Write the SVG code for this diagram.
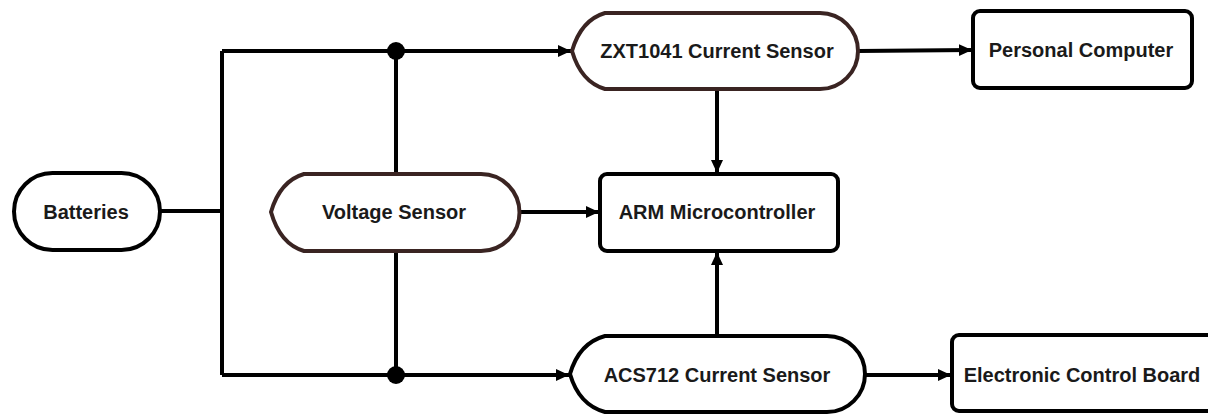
<svg xmlns="http://www.w3.org/2000/svg" width="1208" height="414" viewBox="0 0 1208 414">
<style>
.node{fill:#fff;stroke:#000;stroke-width:4}
.brown{stroke:#3a2422}
.lbl{font-family:"Liberation Sans",Arial,sans-serif;font-weight:bold;font-size:20px;fill:#1a1a1a;text-anchor:middle}
.wire{fill:none;stroke:#000;stroke-width:4}
</style>
<defs>
<marker id="arr" markerUnits="userSpaceOnUse" markerWidth="14" markerHeight="14" refX="13" refY="7" orient="auto">
<path d="M0,1 L13,7 L0,13 Z" fill="#000"/>
</marker>
</defs>
<g id="connectors">
<path class="wire" d="M160,211 H222"/>
<path class="wire" d="M222,51 V375"/>
<path class="wire" d="M222,51 H571" marker-end="url(#arr)"/>
<path class="wire" d="M222,375 H569" marker-end="url(#arr)"/>
<path class="wire" d="M396,51 V174"/>
<path class="wire" d="M396,251 V375"/>
<circle cx="396" cy="51" r="9" fill="#000"/>
<circle cx="396" cy="375" r="9" fill="#000"/>
<path class="wire" d="M519,212 H599" marker-end="url(#arr)"/>
<path class="wire" d="M717,89 V173" marker-end="url(#arr)"/>
<path class="wire" d="M717,336 V252" marker-end="url(#arr)"/>
<path class="wire" d="M858,51 L972,50" marker-end="url(#arr)"/>
<path class="wire" d="M865,375 H951" marker-end="url(#arr)"/>
</g>
<g id="batteries">
<rect class="node" x="14" y="173" width="146" height="77" rx="38.5"/>
<text class="lbl" x="86" y="219">Batteries</text>
</g>
<g id="voltage-sensor">
<path class="node brown" d="M271,212 Q280,181 304,174 L481,174 A38.5,38.5 0 0 1 481,251 L304,251 Q280,244 271,212 Z"/>
<text class="lbl" x="394" y="219">Voltage Sensor</text>
</g>
<g id="zxt1041">
<path class="node brown" d="M572,51 Q581,20 605,13 L820,13 A38,38 0 0 1 820,89 L605,89 Q581,82 572,51 Z"/>
<text class="lbl" x="717" y="58">ZXT1041 Current Sensor</text>
</g>
<g id="acs712">
<path class="node" d="M570,374 Q579,343 605,336 L827,336 A38,38 0 0 1 827,412 L605,412 Q579,405 570,374 Z"/>
<text class="lbl" x="717" y="382">ACS712 Current Sensor</text>
</g>
<g id="arm">
<rect class="node" x="600" y="174" width="238" height="77" rx="7"/>
<text class="lbl" x="717" y="219">ARM Microcontroller</text>
</g>
<g id="pc">
<rect class="node" x="973" y="11" width="219" height="77" rx="7"/>
<text class="lbl" x="1081" y="57">Personal Computer</text>
</g>
<g id="ecb">
<rect class="node" x="952" y="335" width="280" height="76" rx="7"/>
<text class="lbl" x="1082" y="382">Electronic Control Board</text>
</g>
</svg>
